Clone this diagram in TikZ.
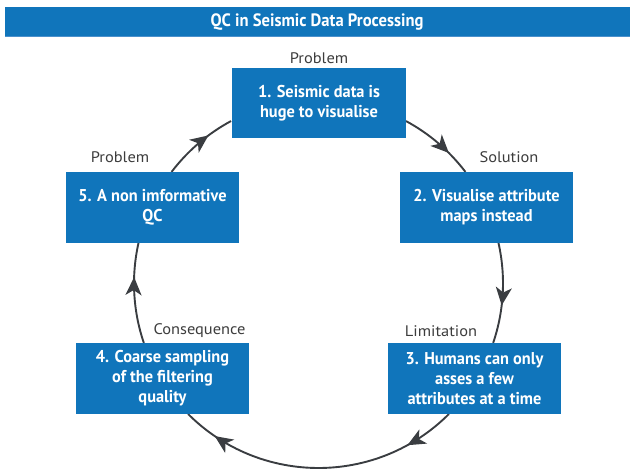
\documentclass[tikz,border=0pt]{standalone}
\usepackage{fontspec}
\setmainfont{PT Sans}
\usetikzlibrary{arrows.meta,decorations.markings}
\definecolor{qblue}{HTML}{1075BB}
\definecolor{qline}{HTML}{4A90CC}
\definecolor{qdark}{HTML}{3A3D41}
\definecolor{qlabel}{HTML}{3C3C3C}
\newlength\qtmpw
\begin{document}
% narrowed fonts fitted to the measured cap heights and text widths of the reference
\settowidth\qtmpw{\normalfont\fontsize{10}{12}\selectfont\bfseries 1. Seismic data is}
\pgfmathsetmacro\boxst{122/(\qtmpw*1.71)}
\settowidth\qtmpw{\normalfont\fontsize{10}{12}\selectfont\bfseries QC in Seismic Data Processing}
\pgfmathsetmacro\titlest{213/(\qtmpw*1.79)}
\settowidth\qtmpw{\normalfont\fontsize{10}{12}\selectfont Consequence}
\pgfmathsetmacro\lblst{92/(\qtmpw*1.53)}
\newfontfamily\qboxfont[FakeStretch=\boxst]{PT Sans}
\newfontfamily\qtitlefont[FakeStretch=\titlest]{PT Sans}
\newfontfamily\qlblfont[FakeStretch=\lblst]{PT Sans}
\begin{tikzpicture}[x=1pt,y=1pt,
  box/.style={fill=qblue, text=white, font=\qboxfont\bfseries\fontsize{17.1}{20}\selectfont, align=center, inner sep=0pt, minimum width=173pt, minimum height=71pt},
  lbl/.style={text=qlabel, font=\qlblfont\fontsize{15.3}{18}\selectfont, inner sep=0pt},
  conn/.style={draw=qdark, line width=1.9pt},
  qtip/.tip={Stealth[length=18pt,width=16pt,inset=5pt]},
  arr/.style={postaction={decorate}, decoration={markings, mark=at position #1 with {\arrow{qtip}}}},
  arrtwo/.style 2 args={postaction={decorate}, decoration={markings,
     mark=at position #1 with {\arrow{qtip}},
     mark=at position #2 with {\arrow{qtip}}}}
]
\useasboundingbox (0,0) rectangle (630,471);
% title bar
\fill[qblue] (5,434) rectangle (630,464);
\draw[qline, line width=1pt] (5,434) -- (630,434);
\node[text=white, font=\qtitlefont\bfseries\fontsize{17.9}{20}\selectfont, inner sep=0pt] (title) at (317,449) {QC in Seismic Data Processing};

% cycle centre
\coordinate (c) at (318.5,187.5);
\def\R{184.5}

% connectors (arcs of the cycle)
\draw[conn, arr=0.68] (c) ++(61.7:\R pt) arc[start angle=61.7, end angle=37.2, radius=\R pt];
\draw[conn, arr=0.62] (c) ++(12.7:\R pt) arc[start angle=12.7, end angle=-18.8, radius=\R pt];
\draw[conn, arrtwo={0.18}{0.88}] (c) ++(-45:\R pt) arc[start angle=-45, end angle=-135, radius=\R pt];
\draw[conn, arr=0.66] (c) ++(198.8:\R pt) arc[start angle=198.8, end angle=167.3, radius=\R pt];
\draw[conn, arr=0.66] (c) ++(142.8:\R pt) arc[start angle=142.8, end angle=118.3, radius=\R pt];

% boxes
\node[box, minimum width=174pt, minimum height=70pt] (b1) at (319,368) {1. Seismic data is\\huge to visualise};
\node[box] (b2) at (486.5,263.5) {2. Visualise attribute\\maps instead};
\node[box] (b3) at (474.5,92.5) {3. Humans can only\\asses a few\\attributes at a time};
\node[box] (b4) at (162.5,92.5) {4. Coarse sampling\\of the filtering\\quality};
\node[box] (b5) at (152.5,263.5) {5. A non imformative\\QC};

% labels
\node[lbl] (l1) at (319,413) {Problem};
\node[lbl] (l2) at (509,314) {Solution};
\node[lbl] (l3) at (441,140) {Limitation};
\node[lbl] (l4) at (199.5,140) {Consequence};
\node[lbl] (l5) at (120,314) {Problem};
\end{tikzpicture}
\end{document}
